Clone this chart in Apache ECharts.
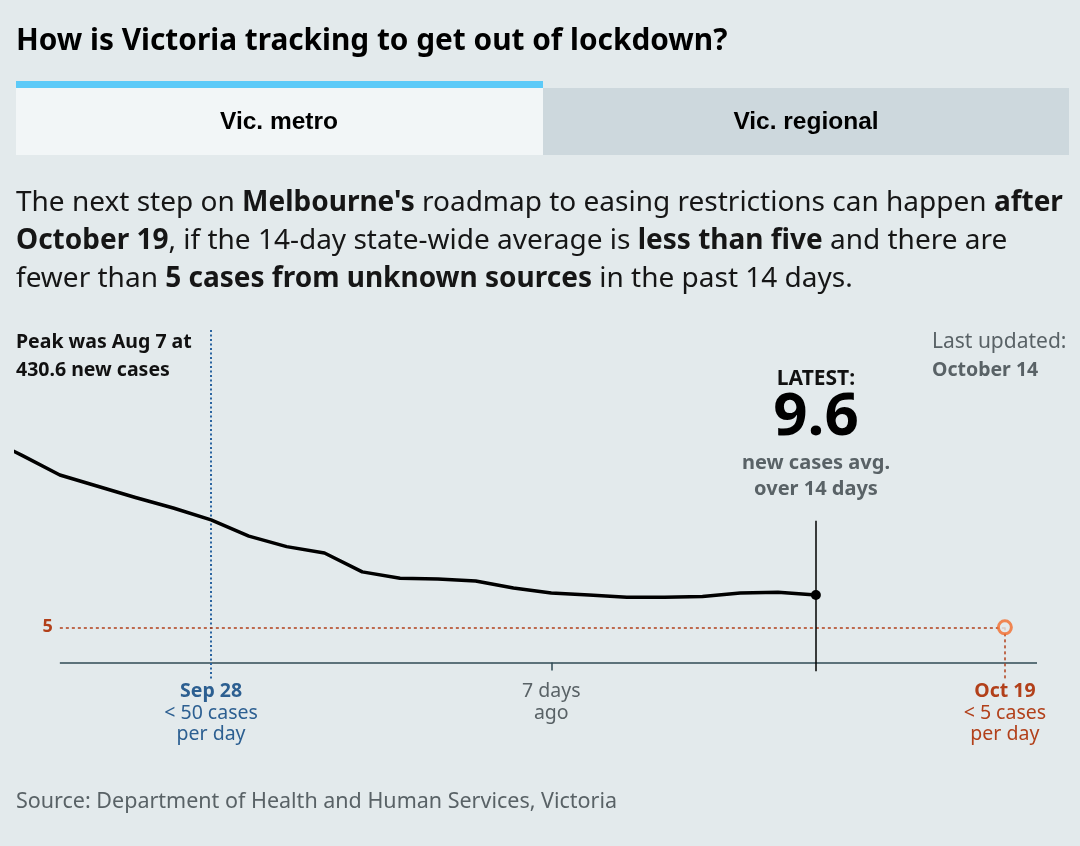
<!DOCTYPE html>
<html><head><meta charset="utf-8">
<script src="https://cdn.jsdelivr.net/npm/echarts@6/dist/echarts.min.js"></script>
<style>html,body{margin:0;padding:0;background:#e3eaec}#c{width:1080px;height:846px}</style>
</head><body><div id="c"></div>
<script>
// ---- data ----
const dates = ['2020-09-22','2020-09-23','2020-09-24','2020-09-25','2020-09-26','2020-09-27','2020-09-28','2020-09-29','2020-09-30',
  '2020-10-01','2020-10-02','2020-10-03','2020-10-04','2020-10-05','2020-10-06','2020-10-07','2020-10-08','2020-10-09',
  '2020-10-10','2020-10-11','2020-10-12','2020-10-13','2020-10-14'];
const avgCases = [32.2,29.5,26.7,25.1,23.5,22.0,20.3,18.0,16.5,15.6,12.9,12.0,11.9,11.6,10.6,9.9,9.6,9.3,9.3,9.4,9.9,10.0,9.6];
const targetValue = 5;
const targetDate = '2020-10-19';
const milestoneDate = '2020-09-28';
const weekAgoDate = '2020-10-07';
const axisStartDate = '2020-09-24';
const milestoneLabels = ['Sep 28', '< 50 cases', 'per day'];
const weekAgoLabels = ['7 days', 'ago'];
const targetLabels = ['Oct 19', '< 5 cases', 'per day'];
const peakNote = ['Peak was Aug 7 at', '430.6 new cases'];
const updatedNote = ['Last updated:', 'October 14'];

// ---- helpers ----
const latestDate = dates[dates.length - 1];
const dayOff = d => Math.round((Date.parse(d) - Date.parse(latestDate)) / 864e5);
const xMin = -21.16, xMax = 5.85, yMin = -2.5, yMax = 47.36;
const FONT = '"Noto Sans", sans-serif';
const BLUE = '#2c5f91', RED = '#b2401a', GREY = '#596266', AXIS = '#2f4a55';

const lineData = dates.map((d, i) => {
  const p = [dayOff(d), avgCases[i]];
  if (i === dates.length - 1) return { value: p, symbol: 'circle', symbolSize: 10, itemStyle: { color: '#000' } };
  return p;
});
const latestValue = avgCases[avgCases.length - 1];

const mS = dayOff(milestoneDate), wA = dayOff(weekAgoDate), tD = dayOff(targetDate), aS = dayOff(axisStartDate);

function labelFor(v) {
  if (v === mS) return '{mb|' + milestoneLabels[0] + '}\n{mn|' + milestoneLabels[1] + '}\n{mn|' + milestoneLabels[2] + '}';
  if (v === wA) return '{gn|' + weekAgoLabels[0] + '}\n{gn|' + weekAgoLabels[1] + '}';
  if (v === tD) return '{rb|' + targetLabels[0] + '}\n{rn|' + targetLabels[1] + '}\n{rn|' + targetLabels[2] + '}';
  return '';
}

const chart = echarts.init(document.getElementById('c'));
const txt = (x, y, text, font, fill, align) => ({
  type: 'text', x, y, silent: true,
  style: { text, font, fill, align: align || 'left', verticalAlign: 'middle' }
});
const para = (y, text) => ({
  type: 'text', x: 16, y, silent: true,
  style: {
    text, font: '28px ' + FONT, fill: '#161616', verticalAlign: 'middle',
    rich: { b: { fontFamily: 'Noto Sans', fontSize: 28, fontWeight: 'bold', fill: '#161616' } }
  }
});
const LS = 21.5;

chart.setOption({
  backgroundColor: '#e3eaec',
  animation: false,
  grid: { left: 16, right: 43, top: 330, bottom: 166 },
  xAxis: {
    type: 'value', min: xMin, max: xMax,
    axisLine: { show: false, onZero: true },
    splitLine: { show: false },
    axisTick: { show: true, customValues: [wA], length: 8, lineStyle: { color: AXIS, width: 1.5 } },
    axisLabel: {
      customValues: [mS, wA, tD], margin: 1, formatter: labelFor, lineHeight: LS,
      rich: {
        mb: { fontFamily: 'Noto Sans', fontSize: 19.5, fontWeight: 'bold', color: BLUE, lineHeight: LS },
        mn: { fontFamily: 'Noto Sans', fontSize: 19.5, color: BLUE, lineHeight: LS },
        gn: { fontFamily: 'Noto Sans', fontSize: 19.5, color: GREY, lineHeight: LS },
        rb: { fontFamily: 'Noto Sans', fontSize: 19.5, fontWeight: 'bold', color: RED, lineHeight: LS },
        rn: { fontFamily: 'Noto Sans', fontSize: 19.5, color: RED, lineHeight: LS }
      }
    }
  },
  yAxis: { type: 'value', min: yMin, max: yMax, show: false, splitLine: { show: false } },
  series: [
    {
      type: 'line', data: lineData, symbol: 'none', showSymbol: true, smooth: false,
      lineStyle: { color: '#000', width: 3.5, join: 'round' }, z: 5, clip: true,
      markLine: {
        silent: true, symbol: ['none', 'none'], animation: false,
        label: { show: false },
        data: [
          [{ coord: [aS, 0], lineStyle: { color: AXIS, width: 1.5, type: 'solid' } }, { coord: [xMax, 0] }],
          [{ coord: [mS, yMax], lineStyle: { color: '#2a64a0', width: 2, type: [2, 2.5] } }, { coord: [mS, yMin] }],
          [{ coord: [aS, targetValue], lineStyle: { color: RED, width: 1.5, type: [3, 3] },
             label: { show: true, position: 'start', formatter: String(targetValue), color: RED,
                      fontFamily: 'Noto Sans', fontWeight: 'bold', fontSize: 18, distance: 7 } },
           { coord: [tD, targetValue] }],
          [{ coord: [tD, targetValue], lineStyle: { color: RED, width: 1.5, type: [3, 3] } }, { coord: [tD, yMin] }],
          [{ coord: [0, 20.2], lineStyle: { color: '#000', width: 1.5, type: 'solid' } }, { coord: [0, -1.25] }]
        ]
      }
    },
    {
      type: 'scatter', data: [[tD, targetValue]], symbol: 'circle', symbolSize: 13, z: 6,
      itemStyle: { color: '#e3eaec', borderColor: '#f26b2a', borderWidth: 3 }
    }
  ],
  graphic: [
    txt(16, 42, 'How is Victoria tracking to get out of lockdown?', 'bold 29.8px ' + FONT, '#000'),
    { type: 'rect', shape: { x: 16, y: 81, width: 527, height: 7 }, style: { fill: '#5ccaf8' }, silent: true },
    { type: 'rect', shape: { x: 16, y: 88, width: 527, height: 67 }, style: { fill: '#f2f6f7' }, silent: true },
    { type: 'rect', shape: { x: 543, y: 88, width: 526, height: 67 }, style: { fill: '#cdd8dd' }, silent: true },
    txt(279, 122, 'Vic. metro', 'bold 24.5px "Liberation Sans", Arial, sans-serif', '#000', 'center'),
    txt(806, 122, 'Vic. regional', 'bold 24.5px "Liberation Sans", Arial, sans-serif', '#000', 'center'),
    para(203, "The next step on {b|Melbourne's} roadmap to easing restrictions can happen {b|after}"),
    para(241, '{b|October 19}, if the 14-day state-wide average is {b|less than five} and there are'),
    para(279, 'fewer than {b|5 cases from unknown sources} in the past 14 days.'),
    txt(16, 342, peakNote[0], 'bold 19.5px ' + FONT, '#111'),
    txt(16, 370, peakNote[1], 'bold 19.5px ' + FONT, '#111'),
    txt(932, 342, updatedNote[0], '21px ' + FONT, GREY),
    txt(932, 370, updatedNote[1], 'bold 19.5px ' + FONT, GREY),
    txt(816, 379, 'LATEST:', 'bold 21px ' + FONT, '#111', 'center'),
    txt(816, 418, String(latestValue), 'bold 60px ' + FONT, '#000', 'center'),
    txt(816, 463, 'new cases avg.', 'bold 20px ' + FONT, GREY, 'center'),
    txt(816, 489, 'over 14 days', 'bold 20px ' + FONT, GREY, 'center'),
    txt(16, 802, 'Source: Department of Health and Human Services, Victoria', '21.5px ' + FONT, GREY)
  ]
});
</script></body></html>
